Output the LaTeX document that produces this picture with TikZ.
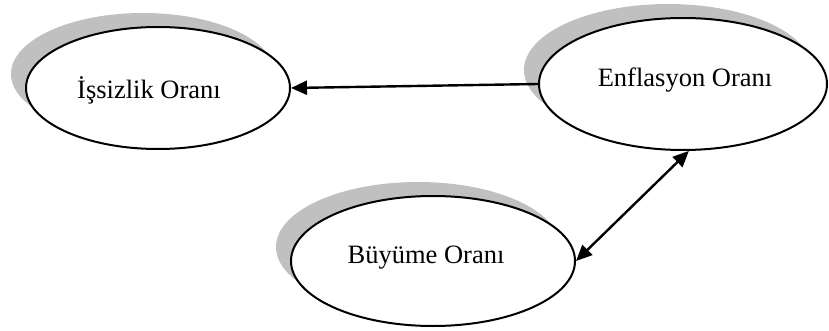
\documentclass[tikz,border=0pt]{standalone}
\usepackage{fontspec}
\setmainfont{Liberation Serif}
\usetikzlibrary{shapes.geometric,arrows.meta,shadows}
\definecolor{shadowgray}{RGB}{192,192,192}
\tikzset{
  oval/.style={ellipse, draw=black, line width=2pt, fill=white, inner sep=0pt,
    general shadow={shadow xshift=-15pt, shadow yshift=14pt, fill=shadowgray, draw=none},
    font=\fontsize{26}{30}\selectfont},
  link/.style={line width=2.4pt, -{Triangle[length=16pt,width=14pt]}},
  biLink/.style={line width=2.4pt, {Triangle[length=16pt,width=14pt]}-{Triangle[length=16pt,width=14pt]}}
}
\begin{document}
\begin{tikzpicture}[x=1pt, y=-1pt]
\useasboundingbox (0,0) rectangle (829,331);
% three variables
\node[oval, minimum width=264pt, minimum height=122pt,
      label={[xshift=-9pt, yshift=-2pt, font=\fontsize{26.5}{30}\selectfont]center:İşsizlik Oranı}]
  (issizlik) at (158,88) {};
\node[oval, minimum width=288pt, minimum height=132pt,
      label={[xshift=2pt, yshift=4pt, font=\fontsize{26.5}{30}\selectfont]center:Enflasyon Oranı}]
  (enflasyon) at (683,84) {};
\node[oval, minimum width=284pt, minimum height=130pt,
      label={[xshift=-7pt, yshift=3pt, font=\fontsize{26.5}{30}\selectfont]center:Büyüme Oranı}]
  (buyume) at (433,261) {};
% relations
\draw[link] (enflasyon.west) -- (issizlik.east);
\draw[biLink] (buyume.east) -- (enflasyon.-85);
\end{tikzpicture}
\end{document}
